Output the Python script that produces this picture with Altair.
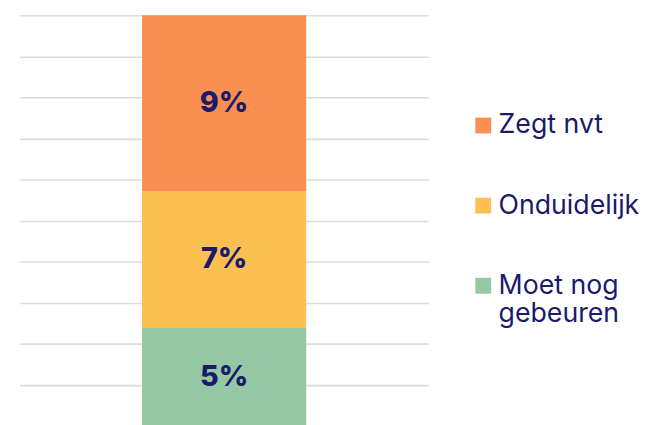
import altair as alt
import pandas as pd

# ---- data ----
categories = ["Moet nog gebeuren", "Onduidelijk", "Zegt nvt"]   # bottom -> top
values = [5, 7, 9]                                               # percent
stack_order = [0, 1, 2]
legend_order = ["Zegt nvt", "Onduidelijk", "Moet nog gebeuren"]
legend_colors = ["#FA8F51", "#FBBF52", "#93C8A3"]
grid_values = [0, 2.1, 4.2, 6.3, 8.4, 10.5, 12.6, 14.7, 16.8, 18.9, 21]
y_domain = [0, 21]

NAVY = "#1B1A6B"
FONT = "Inter"

df = pd.DataFrame({"group": ["A"] * 3, "cat": categories, "value": values, "order": stack_order})

base = alt.Chart(df).transform_stack(
    stack="value", groupby=["group"], as_=["y0", "y1"], sort=[alt.SortField("order", order="ascending")]
).transform_calculate(
    mid="(datum.y0 + datum.y1) / 2",
    label="datum.value + '%'",
)

x_enc = alt.X("group:N", axis=None, scale=alt.Scale(type="band"))

bars = base.mark_bar(size=166).encode(
    x=x_enc,
    y=alt.Y(
        "y0:Q",
        scale=alt.Scale(domain=y_domain, nice=False, zero=True),
        axis=alt.Axis(
            values=grid_values, labels=False, ticks=False, domain=False, title=None,
            grid=True, gridColor="#DCDCDC", gridWidth=1.6,
        ),
    ),
    y2="y1:Q",
    color=alt.Color(
        "cat:N",
        scale=alt.Scale(domain=legend_order, range=legend_colors),
        legend=alt.Legend(
            title=None, orient="none", legendX=455, legendY=98,
            symbolType="square", symbolSize=256, symbolStrokeWidth=0, symbolOpacity=1,
            labelFont=FONT, labelFontSize=27, labelColor=NAVY, labelOffset=2,
            labelLimit=400, rowPadding=53, padding=0,
            labelExpr="datum.label == 'Moet nog gebeuren' ? ['Moet nog', 'gebeuren'] : datum.label",
        ),
    ),
)

text = base.mark_text(font=FONT, fontSize=29, fontWeight=800, color=NAVY, baseline="middle").encode(
    x=x_enc,
    y=alt.Y("mid:Q"),
    text="label:N",
)

chart = alt.layer(bars, text).properties(
    width=413, height=415,
    padding={"left": 12, "top": 5, "right": 0, "bottom": 0},
    background="white",
).configure_view(stroke=None)

chart.save("out.html", embed_options={"renderer": "svg", "actions": False})
